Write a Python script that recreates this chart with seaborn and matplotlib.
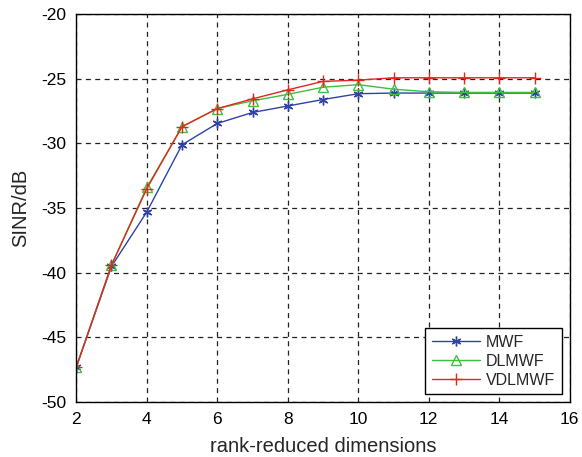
import numpy as np
import pandas as pd
import matplotlib
matplotlib.use('Agg')
import matplotlib.pyplot as plt
import seaborn as sns

# values
dims = [2, 3, 4, 5, 6, 7, 8, 9, 10, 11, 12, 13, 14, 15]
mwf = [-47.3, -39.5, -35.3, -30.1, -28.45, -27.6, -27.1, -26.6, -26.15, -26.1, -26.1, -26.1, -26.1, -26.1]
dlmwf = [-47.3, -39.4, -33.4, -28.7, -27.3, -26.7, -26.2, -25.65, -25.45, -25.8, -26.0, -26.05, -26.05, -26.05]
vdlmwf = [-47.3, -39.4, -33.5, -28.7, -27.3, -26.55, -25.85, -25.2, -25.1, -24.92, -24.92, -24.92, -24.92, -24.92]

series_names = ['MWF', 'DLMWF', 'VDLMWF']
series_colors = ['#2f42a8', '#3fbf3f', '#e5261f']
series_markers = [(6, 2, 0), '^', '+']
series_sizes = [7, 7, 8]

sns.set_style('white')
plt.rcParams['font.family'] = ['Liberation Sans', 'DejaVu Sans']
plt.rcParams['axes.unicode_minus'] = False

df = pd.DataFrame({
    'dim': dims * 3,
    'sinr': mwf + dlmwf + vdlmwf,
    'method': sum([[n] * len(dims) for n in series_names], []),
})

fig, ax = plt.subplots(figsize=(5.82, 4.57), dpi=100)
fig.subplots_adjust(left=0.131, right=0.979, bottom=0.12, top=0.969)

for name, color, marker, ms in zip(series_names, series_colors, series_markers, series_sizes):
    sub = df[df['method'] == name]
    mfc = 'none' if marker == '^' else color
    sns.lineplot(data=sub, x='dim', y='sinr', ax=ax, color=color, linewidth=1.0,
                 marker=marker, markersize=ms, markerfacecolor=mfc,
                 markeredgecolor=color, markeredgewidth=1.0, label=name)

ax.set_xlim(2, 16)
ax.set_ylim(-50, -20)
ax.set_xticks(np.arange(2, 17, 2))
ax.set_yticks(np.arange(-50, -19, 5))
ax.grid(True, color='#222222', linestyle=(0, (4, 3.5)), linewidth=0.9)
for sp in ax.spines.values():
    sp.set_color('black')
    sp.set_linewidth(1.0)
ax.tick_params(direction='in', length=4, labelsize=12.5, colors='black', pad=7)
ax.set_xlabel('rank-reduced dimensions', fontsize=14.5, labelpad=7)
ax.set_ylabel('SINR/dB', fontsize=14.5, labelpad=8)

leg = ax.legend(loc='lower right', fontsize=11.5, frameon=True, fancybox=False,
                edgecolor='black', framealpha=1, borderpad=0.4, handlelength=3.0,
                handletextpad=0.4, labelspacing=0.25, borderaxespad=0.5)
leg.get_frame().set_linewidth(1.0)

fig.savefig('out.png', dpi=100)
